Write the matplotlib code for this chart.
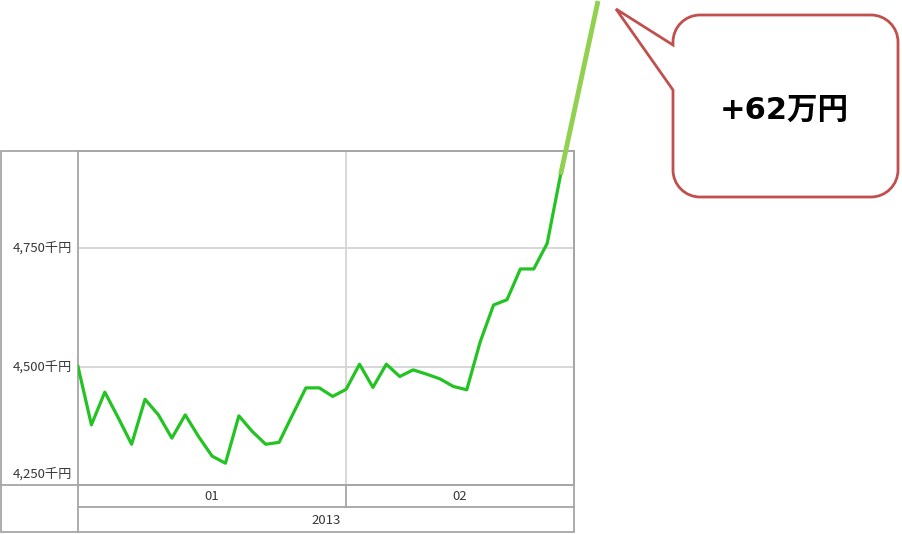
import matplotlib
matplotlib.use('Agg')
import matplotlib.pyplot as plt
from matplotlib.lines import Line2D
from matplotlib.patches import Rectangle, PathPatch
from matplotlib.path import Path

plt.rcParams['font.family'] = ['Noto Sans CJK JP', 'DejaVu Sans']

# ---- data ----
values = [4500, 4377, 4446, 4392, 4336, 4431, 4398, 4349, 4398, 4352,
          4311, 4296, 4396, 4363, 4336, 4340, 4398, 4455, 4455, 4437,
          4452, 4505, 4456, 4505, 4479, 4493, 4484, 4474, 4458, 4451,
          4552, 4630, 4641, 4706, 4706, 4760, 4905]
day_index = list(range(len(values)))
month_labels = ['01', '02']
month_starts = [0, 20]
month_end = 37
year_label = '2013'
y_ticks = [4250, 4500, 4750]
y_tick_labels = ['4,250千円', '4,500千円', '4,750千円']
callout_text = '+62万円'

# ---- figure ----
W, H = 902, 534
fig = plt.figure(figsize=(W / 100, H / 100), dpi=100)


def fx(x):
    return x / W


def fy(y):
    return 1 - y / H


border = '#a6a6a6'
grid = '#d4d4d4'
txt = '#383838'

ax = fig.add_axes([fx(78), fy(485), (574 - 78) / W, (485 - 151) / H])
ax.plot(day_index, values, color='#22c322', lw=2.3,
        solid_joinstyle='round', zorder=3)
ax.set_xlim(0, month_end)
ax.set_ylim(4250, 4955)
ax.set_xticks([])
ax.set_yticks([])
for v in y_ticks[1:]:
    ax.axhline(v, color=grid, lw=1.3, zorder=1)
for m in month_starts[1:]:
    ax.axvline(m, color=grid, lw=1.3, zorder=1)
for s in ax.spines.values():
    s.set_color(border)
    s.set_linewidth(1.3)

for v, lab in zip(y_ticks, y_tick_labels):
    dy = 11 if v == y_ticks[0] else 0
    ax.annotate(lab, xy=(0, v), xycoords=ax.get_yaxis_transform(),
                xytext=(-6, dy), textcoords='offset pixels',
                ha='right', va='center', fontsize=9.5, color=txt)

# ---- outer frame and category rows ----
ftr = fig.transFigure
fig.add_artist(Rectangle((fx(1), fy(532)), fx(574) - fx(1), fy(151) - fy(532),
                         fill=False, edgecolor=border, lw=1.3, transform=ftr))
fig.add_artist(Line2D([fx(1), fx(574)], [fy(485), fy(485)], color=border, lw=1.3, transform=ftr))
fig.add_artist(Line2D([fx(78), fx(574)], [fy(507), fy(507)], color=border, lw=1.3, transform=ftr))
fig.add_artist(Line2D([fx(78), fx(78)], [fy(485), fy(532)], color=border, lw=1.3, transform=ftr))


def data_to_fig_x(xv):
    px = ax.transData.transform((xv, 4250))
    return ftr.inverted().transform(px)[0]


bounds = month_starts + [month_end]
for i in range(1, len(month_starts)):
    xb = data_to_fig_x(month_starts[i])
    fig.add_artist(Line2D([xb, xb], [fy(485), fy(507)], color=border, lw=1.3, transform=ftr))
for i, lab in enumerate(month_labels):
    xc = data_to_fig_x((bounds[i] + bounds[i + 1]) / 2)
    fig.text(xc, fy(496), lab, ha='center', va='center', fontsize=9.5, color=txt)
fig.text((data_to_fig_x(bounds[0]) + data_to_fig_x(bounds[-1])) / 2, fy(520),
         year_label, ha='center', va='center', fontsize=9.5, color=txt)

# ---- extension line from last point ----
last = ftr.inverted().transform(ax.transData.transform((day_index[-1], values[-1])))
fig.add_artist(Line2D([last[0], fx(598)], [last[1], fy(1)], color='#92d050',
                      lw=3.5, solid_capstyle='butt', transform=ftr, zorder=5))

# ---- callout ----
L, R, T, B, r = 673, 898, 15, 197, 27
k = 0.5523 * r
tip = (616, 9)
pb1, pb2 = (673, 45), (673, 90)
pts = [
    ((L + r, T), Path.MOVETO),
    ((R - r, T), Path.LINETO),
    ((R - r + k, T), Path.CURVE4), ((R, T + r - k), Path.CURVE4), ((R, T + r), Path.CURVE4),
    ((R, B - r), Path.LINETO),
    ((R, B - r + k), Path.CURVE4), ((R - r + k, B), Path.CURVE4), ((R - r, B), Path.CURVE4),
    ((L + r, B), Path.LINETO),
    ((L + r - k, B), Path.CURVE4), ((L, B - r + k), Path.CURVE4), ((L, B - r), Path.CURVE4),
    (pb2, Path.LINETO),
    (tip, Path.LINETO),
    (pb1, Path.LINETO),
    ((L, T + r), Path.LINETO),
    ((L, T + r - k), Path.CURVE4), ((L + r - k, T), Path.CURVE4), ((L + r, T), Path.CURVE4),
    ((L + r, T), Path.CLOSEPOLY),
]
verts = [(fx(p[0]), fy(p[1])) for p, _ in pts]
codes = [c for _, c in pts]
fig.add_artist(PathPatch(Path(verts, codes), facecolor='white', edgecolor='#c0504d',
                         lw=2, joinstyle='miter', transform=ftr))
fig.text(fx(784), fy(110), callout_text, ha='center', va='center',
         fontsize=22, fontweight='bold', color='black',
         family=['DejaVu Sans', 'Noto Sans CJK JP'])

fig.savefig('out.png', dpi=100)
